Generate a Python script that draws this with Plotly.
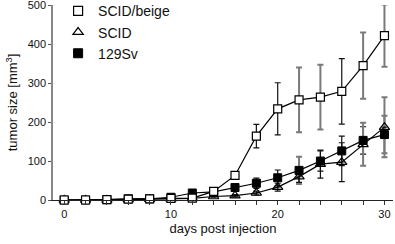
import plotly.graph_objects as go

days = [0, 2, 4, 6, 8, 10, 12, 14, 16, 18, 20, 22, 24, 26, 28, 30]

beige = [0, 0, 1, 2, 3, 4, 5, 22, 63, 164, 234, 257, 264, 279, 345, 422]
beige_err = [0, 0, 0, 0, 0, 0, 0, 3, 4, 30, 67, 83, 83, 84, 85, 80]
beige_err_dark = [1, 1, 1, 1, 1, 1, 1, 1, 1, 1, 1, 0, 0, 1, 0, 0]

scid = [0, 0, 0, 1, 2, 3, 4, 9, 11, 18, 33, 60, 92, 97, 143, 187]
scid_err = [0, 0, 0, 0, 0, 0, 0, 2, 3, 5, 10, 15, 36, 50, 55, 77]
scid_err_dark = [1, 1, 1, 1, 1, 1, 1, 1, 1, 1, 1, 1, 1, 1, 0, 0]

sv = [0, 0, 1, 3, 3, 7, 18, 21, 32, 43, 57, 76, 100, 126, 153, 168]
sv_err = [0, 0, 0, 0, 0, 0, 3, 4, 8, 13, 20, 35, 26, 38, 35, 48]
sv_err_dark = [1, 1, 1, 1, 1, 1, 1, 1, 1, 1, 1, 0, 1, 1, 1, 0]

names = ["SCID/beige", "SCID", "129Sv"]
x_ticks = [0, 10, 20, 30]
y_ticks = [0, 100, 200, 300, 400, 500]

FONT = "Liberation Sans, Arial, Helvetica, sans-serif"
DARK = "#111111"
GRAY = "#7a7a7a"

fig = go.Figure()

series = [
    (sv, sv_err, sv_err_dark, dict(symbol="square", color="black", size=8, line=dict(color="black", width=1))),
    (scid, scid_err, scid_err_dark, dict(symbol="triangle-up-open", color="black", size=9, line=dict(color="black", width=1.2))),
    (beige, beige_err, beige_err_dark, dict(symbol="square", color="white", size=8, line=dict(color="black", width=1.2))),
]

# error bars (split into dark and gray groups)
for vals, err, dark, mk in series:
    e_dark = [e if d else 0 for e, d in zip(err, dark)]
    e_gray = [0 if d else e for e, d in zip(err, dark)]
    for earr, col, th in [(e_gray, GRAY, 2), (e_dark, DARK, 1.2)]:
        fig.add_trace(go.Scatter(
            x=days, y=vals, mode="markers", marker=dict(size=0.1, opacity=0),
            error_y=dict(type="data", array=earr, visible=True, color=col,
                         thickness=th, width=3),
            showlegend=False, hoverinfo="skip", cliponaxis=False))

# lines and markers
for vals, err, dark, mk in series:
    fig.add_trace(go.Scatter(
        x=days, y=vals, mode="lines+markers",
        line=dict(color="black", width=1.2),
        marker=mk, showlegend=False, cliponaxis=False))

# legend-only entries
legend_markers = {
    "SCID/beige": series[2][3],
    "SCID": series[1][3],
    "129Sv": series[0][3],
}
for nm in names:
    m = dict(legend_markers[nm])
    m["size"] = 9
    fig.add_trace(go.Scatter(x=[None], y=[None], mode="markers", name=nm, marker=m))

fig.update_layout(
    width=395, height=244,
    margin=dict(l=53, r=2, t=5, b=44, autoexpand=False),
    paper_bgcolor="white", plot_bgcolor="white",
    font=dict(family=FONT, color="#111111", size=11),
    showlegend=True,
    legend=dict(x=0.015, y=1.05, xanchor="left", yanchor="top",
                font=dict(size=14, family=FONT, color="#111111"),
                bgcolor="rgba(0,0,0,0)", itemwidth=30, tracegroupgap=0),
    xaxis=dict(range=[-1.05, 30.8], tickvals=list(range(0, 31, 2)),
               ticktext=[str(v) if v in x_ticks else "" for v in range(0, 31, 2)],
               ticks="outside", ticklen=4, tickcolor="#333333", tickwidth=1,
               showline=True, linecolor="#222222", linewidth=1,
               showgrid=False, zeroline=False,
               tickfont=dict(size=11),
               title=dict(text="days post injection", font=dict(size=13), standoff=4)),
    yaxis=dict(range=[0, 500.5], tickvals=y_ticks, ticklabeloverflow="allow",
               ticks="outside", ticklen=3, tickcolor="#555555", tickwidth=1,
               showline=True, linecolor="#888888", linewidth=1.5,
               showgrid=False, zeroline=False,
               tickfont=dict(size=11),
               title=dict(text="tumor size [mm<sup>3</sup>]", font=dict(size=13), standoff=7)),
)

fig.write_html("out.html", config={"displayModeBar": False},
               post_script="document.body.style.margin='0';document.body.style.overflow='hidden';")
